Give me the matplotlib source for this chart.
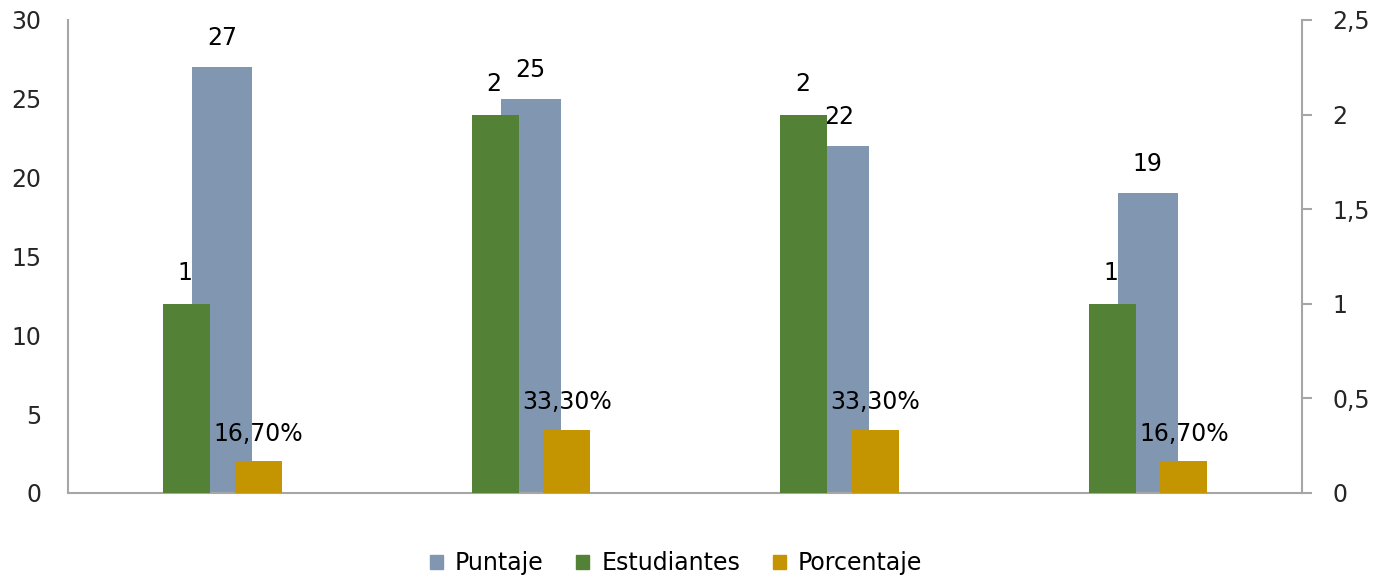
import matplotlib

matplotlib.use("Agg")
import matplotlib.pyplot as plt
import numpy as np
from matplotlib.patches import Patch
from matplotlib.ticker import FuncFormatter

plt.rcParams["font.family"] = ["DejaVu Sans"]
plt.rcParams["font.size"] = 17

groups = ["1", "2", "3", "4"]
puntaje = [27, 25, 22, 19]
estudiantes = [1, 2, 2, 1]
porcentaje = [0.167, 0.333, 0.333, 0.167]
porcentaje_labels = ["16,70%", "33,30%", "33,30%", "16,70%"]

c_puntaje = "#8197B1"
c_estud = "#538135"
c_porc = "#C49500"
c_axis = "#A6A6A6"

x = np.arange(len(groups))

fig = plt.figure(figsize=(13.84, 5.81), dpi=100)
ax = fig.add_axes([0.0491, 0.1515, 0.8917, 0.8141])
ax2 = ax.twinx()

ax.bar(x, puntaje, width=0.195, color=c_puntaje, zorder=2)
ax2.bar(x - 0.115, estudiantes, width=0.152, color=c_estud, zorder=3)
ax2.bar(x + 0.117, porcentaje, width=0.152, color=c_porc, zorder=3)

for xi, v in zip(x, puntaje):
    ax.annotate(str(v), (xi, v), xytext=(0, 21), textcoords="offset points",
                ha="center", va="center")
for xi, v in zip(x, estudiantes):
    ax2.annotate(str(v), (xi - 0.12, v), xytext=(0, 22), textcoords="offset points",
                 ha="center", va="center")
for xi, v, lab in zip(x, porcentaje, porcentaje_labels):
    ax2.annotate(lab, (xi + 0.117, v), xytext=(0, 20), textcoords="offset points",
                 ha="center", va="center")

ax.set_xlim(-0.5, 3.5)
ax.set_ylim(0, 30)
ax2.set_ylim(0, 2.5)
ax.set_yticks(range(0, 31, 5))
ax2.set_yticks([0, 0.5, 1, 1.5, 2, 2.5])
ax2.yaxis.set_major_formatter(FuncFormatter(lambda v, p: f"{v:g}".replace(".", ",")))
ax.set_xticks([])

for a in (ax, ax2):
    a.spines["top"].set_visible(False)
    for s in ("left", "right", "bottom"):
        a.spines[s].set_color(c_axis)
        a.spines[s].set_linewidth(1.5)
ax.spines["right"].set_visible(False)
ax2.spines["left"].set_visible(False)
ax2.spines["bottom"].set_visible(False)

ax.tick_params(axis="y", length=0, pad=19, labelcolor="#262626")
ax2.tick_params(axis="y", length=7, width=1.5, color=c_axis, pad=15, labelcolor="#262626")

handles = [Patch(color=c_puntaje), Patch(color=c_estud), Patch(color=c_porc)]
fig.legend(handles, ["Puntaje", "Estudiantes", "Porcentaje"], loc="center",
           bbox_to_anchor=(0.4885, 0.031), ncol=3, frameon=False,
           handlelength=0.55, handleheight=0.55, handletextpad=0.5, columnspacing=1.4)

fig.savefig("out.png", dpi=100)
